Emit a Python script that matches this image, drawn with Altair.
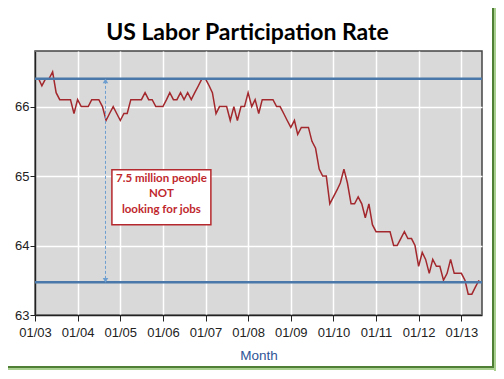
import altair as alt
import pandas as pd

# Labor force participation rate (%), monthly, Jan 2003 - Jun 2013
rate_2003 = [66.4, 66.4, 66.3, 66.4, 66.4, 66.5, 66.2, 66.1, 66.1, 66.1, 66.1, 65.9]
rate_2004 = [66.1, 66.0, 66.0, 66.0, 66.1, 66.1, 66.1, 66.0, 65.8, 65.9, 66.0, 65.9]
rate_2005 = [65.8, 65.9, 65.9, 66.1, 66.1, 66.1, 66.1, 66.2, 66.1, 66.1, 66.0, 66.0]
rate_2006 = [66.0, 66.1, 66.2, 66.1, 66.1, 66.2, 66.1, 66.2, 66.1, 66.2, 66.3, 66.4]
rate_2007 = [66.4, 66.3, 66.2, 65.9, 66.0, 66.0, 66.0, 65.8, 66.0, 65.8, 66.0, 66.0]
rate_2008 = [66.2, 66.0, 66.1, 65.9, 66.1, 66.1, 66.1, 66.1, 66.0, 66.0, 65.9, 65.8]
rate_2009 = [65.7, 65.8, 65.6, 65.7, 65.7, 65.7, 65.5, 65.4, 65.1, 65.0, 65.0, 64.6]
rate_2010 = [64.7, 64.8, 64.9, 65.1, 64.9, 64.6, 64.6, 64.7, 64.6, 64.4, 64.6, 64.3]
rate_2011 = [64.2, 64.2, 64.2, 64.2, 64.2, 64.0, 64.0, 64.1, 64.2, 64.1, 64.1, 64.0]
rate_2012 = [63.7, 63.9, 63.8, 63.6, 63.8, 63.7, 63.7, 63.5, 63.6, 63.8, 63.6, 63.6]
rate_2013 = [63.6, 63.5, 63.3, 63.3, 63.4, 63.5]

years = list(range(2003, 2014))
rates_by_year = [rate_2003, rate_2004, rate_2005, rate_2006, rate_2007, rate_2008,
                 rate_2009, rate_2010, rate_2011, rate_2012, rate_2013]

# reference levels and annotation
level_values = [66.4, 63.47]
arrow_date = "2004-08-27"
box_x = ["2004-10-21", "2007-02-16"]
box_y = [64.30, 65.09]
note_lines = ["7.5 million people", "NOT", "looking for jobs"]
note_date = "2005-12-19"
note_y = 64.96
tick_years = list(range(2003, 2014))
y_ticks = [63, 64, 65, 66]

rows = []
for y, vals in zip(years, rates_by_year):
    for m, v in enumerate(vals, start=1):
        rows.append({"date": f"{y}-{m:02d}-01", "rate": v})
df = pd.DataFrame(rows)

x_scale = alt.Scale(type="utc", domain=[alt.DateTime(year=2003, month=1, date=1, utc=True),
                                        alt.DateTime(year=2013, month=6, date=27, utc=True)])
y_scale = alt.Scale(domain=[63, 66.8], nice=False, zero=False)

sans = "Liberation Sans, Arial, sans-serif"

x_axis = alt.Axis(
    values=[alt.DateTime(year=y, month=1, date=1, utc=True) for y in tick_years],
    labelExpr="utcFormat(datum.value, '%m/%y')", title="Month", titleColor="#2f5597",
    titleFont=sans, titleFontSize=13.5, titleFontWeight="normal", titlePadding=9,
    labelFont=sans, labelFontSize=13, labelColor="#222", labelPadding=5,
    tickSize=6, tickColor="#222", domainColor="#222", domainWidth=1.5,
    gridColor="white", gridWidth=1.5, labelFlush=False,
)
y_axis = alt.Axis(
    values=y_ticks, format="d", title=None,
    labelFont=sans, labelFontSize=13, labelColor="#222", labelPadding=1,
    tickSize=5, tickColor="#222", domainColor="#222", domainWidth=1.5,
    gridColor="white", gridWidth=1.5,
)

base = alt.Chart(df)

line = base.mark_line(color="#a3282d", strokeWidth=1.5).encode(
    x=alt.X("date:T", scale=x_scale, axis=x_axis),
    y=alt.Y("rate:Q", scale=y_scale, axis=y_axis),
)

lev_df = pd.DataFrame({"level": level_values})
levels = alt.Chart(lev_df).mark_rule(color="#4a78aa", strokeWidth=2.5).encode(
    y=alt.Y("level:Q", scale=y_scale)
)

arr_df = pd.DataFrame({"date": [arrow_date], "top": [level_values[0] - 0.03], "bot": [level_values[1] + 0.03]})
arrow = alt.Chart(arr_df).mark_rule(color="#6d9ecf", strokeWidth=1, strokeDash=[3, 2]).encode(
    x=alt.X("date:T", scale=x_scale), y=alt.Y("top:Q", scale=y_scale), y2="bot:Q"
)
head_up = alt.Chart(arr_df).mark_point(shape="triangle-up", filled=True, color="#6d9ecf", size=30, opacity=1).encode(
    x=alt.X("date:T", scale=x_scale), y=alt.Y("top:Q", scale=y_scale)
)
head_dn = alt.Chart(arr_df).mark_point(shape="triangle-down", filled=True, color="#6d9ecf", size=30, opacity=1).encode(
    x=alt.X("date:T", scale=x_scale), y=alt.Y("bot:Q", scale=y_scale)
)

box_df = pd.DataFrame({"x1": [box_x[0]], "x2": [box_x[1]], "y1": [box_y[0]], "y2": [box_y[1]]})
box = alt.Chart(box_df).mark_rect(fill="white", stroke="#b5282d", strokeWidth=1.5).encode(
    x=alt.X("x1:T", scale=x_scale), x2="x2:T",
    y=alt.Y("y1:Q", scale=y_scale), y2="y2:Q",
)

note_df = pd.DataFrame({"date": [note_date], "y": [note_y]})
note = alt.Chart(note_df).mark_text(
    font="Lato", fontSize=11.5, fontWeight="bold", color="#c0282d",
    align="center", baseline="middle", lineHeight=15.5,
).encode(
    x=alt.X("date:T", scale=x_scale), y=alt.Y("y:Q", scale=y_scale),
    text=alt.value(note_lines),
)

# decorative green picture-frame shadow (right and bottom edges)
frame_dark_v = alt.Chart(lev_df).mark_rule(color="#4e7f34", strokeWidth=2).encode(
    x=alt.value(458), y=alt.value(-43), y2=alt.value(317))
frame_light_v = alt.Chart(lev_df).mark_rule(color="#a9d08e", strokeWidth=2).encode(
    x=alt.value(460), y=alt.value(-43), y2=alt.value(320))
frame_dark_h = alt.Chart(lev_df).mark_rule(color="#4e7f34", strokeWidth=2).encode(
    y=alt.value(316), x=alt.value(-27), x2=alt.value(459))
frame_light_h = alt.Chart(lev_df).mark_rule(color="#a9d08e", strokeWidth=2).encode(
    y=alt.value(318), x=alt.value(-27), x2=alt.value(461))

chart = alt.layer(line, levels, arrow, head_up, head_dn, box, note,
                  frame_dark_v, frame_light_v, frame_dark_h, frame_light_h).properties(
    width=447, height=264,
    autosize=alt.AutoSizeParams(type="none"),
    padding={"left": 27, "top": 43, "right": 14, "bottom": 56},
    title=alt.TitleParams(
        "US Labor Participation Rate", font="Lato", fontSize=23, fontWeight="bold",
        color="black", anchor="middle", baseline="alphabetic", offset=13, dx=-11, dy=69,
    ),
    background="white",
).configure_view(
    fill="#d9d9d9", stroke="#444", strokeWidth=1.5
)

chart.save("out.html", embed_options={"renderer": "svg", "actions": False})
